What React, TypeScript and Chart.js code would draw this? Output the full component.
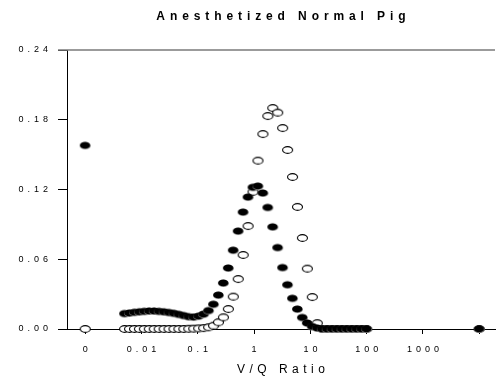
import { useEffect, useRef } from "react";
import { Chart, registerables } from "chart.js";

Chart.register(...registerables);

// V/Q compartments (50, log-spaced 0.005 .. 100)
const vqRatios = [
  0.005, 0.00612, 0.00749, 0.00917, 0.01122, 0.01373, 0.01681, 0.02057, 0.02518, 0.03083,
  0.03773, 0.04618, 0.05652, 0.06918, 0.08468, 0.10365, 0.12687, 0.15529, 0.19007, 0.23264,
  0.28474, 0.34851, 0.42658, 0.52214, 0.63906, 0.78219, 0.95738, 1.1718, 1.4342, 1.7555,
  2.1487, 2.6298, 3.2188, 3.9398, 4.822, 5.902, 7.2238, 8.8418, 10.822, 13.246,
  16.212, 19.843, 24.287, 29.727, 36.385, 44.533, 54.507, 66.715, 81.657, 100,
];

// Blood flow (filled markers)
const perfusion = [
  0.0133, 0.0138, 0.0144, 0.0148, 0.0152, 0.0155, 0.0155, 0.0152, 0.0148, 0.0142,
  0.0135, 0.0126, 0.0116, 0.0106, 0.0103, 0.0111, 0.0128, 0.0159, 0.0213, 0.0292,
  0.0396, 0.0525, 0.0678, 0.0843, 0.1006, 0.1135, 0.1219, 0.123, 0.117, 0.1046,
  0.0879, 0.0701, 0.0529, 0.0381, 0.0264, 0.0172, 0.0099, 0.0052, 0.0022, 0.0009,
  0, 0, 0, 0, 0, 0, 0, 0, 0, 0,
];

// Ventilation (open markers)
const ventilation = [
  0, 0, 0, 0, 0, 0, 0, 0, 0, 0,
  0, 0, 0, 0.0002, 0.0003, 0.0005, 0.0008, 0.0015, 0.0028, 0.0058,
  0.01, 0.0172, 0.0278, 0.043, 0.0637, 0.0886, 0.118, 0.1448, 0.1677, 0.1832,
  0.1901, 0.1861, 0.1729, 0.154, 0.1308, 0.105, 0.0783, 0.0519, 0.0275, 0.005,
  0, 0, 0, 0, 0, 0, 0, 0, 0, 0,
];

// Shunt (V/Q = 0) and dead space (V/Q = infinity)
const shuntPerfusion = 0.158;
const shuntVentilation = 0;
const deadSpacePerfusion = 0;
const deadSpaceVentilation = 0;

// x axis: decades (log10 positions); "0" sits one decade below 0.01
const xTickPositions = [-3, -2, -1, 0, 1, 2, 3, 4];
const xTickLabels = ["0", "0.01", "0.1", "1", "10", "100", "1000", ""];
const shuntPosition = -3;
const deadSpacePosition = 4;

const yTicks = [0, 0.06, 0.12, 0.18, 0.24];

const FONT = "'Liberation Sans', Arial, Helvetica, sans-serif";

function makeMarker(filled: boolean): HTMLCanvasElement {
  const c = document.createElement("canvas");
  c.width = 13;
  c.height = 10;
  const g = c.getContext("2d")!;
  if (filled) {
    g.fillStyle = "#8a8a8a";
    g.beginPath();
    g.ellipse(6.5, 5.4, 5.4, 3.6, 0, 0, Math.PI * 2);
    g.fill();
    g.fillStyle = "#000";
    g.beginPath();
    g.ellipse(6.3, 4.9, 5.1, 3.4, 0, 0, Math.PI * 2);
    g.fill();
  } else {
    g.fillStyle = "#fff";
    g.strokeStyle = "#000";
    g.lineWidth = 1.1;
    g.beginPath();
    g.ellipse(6.5, 5, 5, 3.4, 0, 0, Math.PI * 2);
    g.fill();
    g.stroke();
  }
  return c;
}

const decorPlugin = {
  id: "decor",
  beforeDraw(chart: any) {
    chart.ctx.letterSpacing = "4px";
  },
  beforeDatasetsDraw(chart: any) {
    const ctx = chart.ctx;
    const { left, right, top } = chart.chartArea;
    ctx.save();
    ctx.strokeStyle = "#7a7a7a";
    ctx.lineWidth = 1.6;
    ctx.beginPath();
    ctx.moveTo(left - 9, top);
    ctx.lineTo(right, top);
    ctx.stroke();
    ctx.restore();
  },
  afterDraw(chart: any) {
    const ctx = chart.ctx;
    const { left, right } = chart.chartArea;
    const cx = (left + right) / 2;
    ctx.save();
    ctx.fillStyle = "#000";
    ctx.textAlign = "center";
    ctx.textBaseline = "alphabetic";
    ctx.font = `bold 12px ${FONT}`;
    ctx.letterSpacing = "4.9px";
    ctx.fillText("Anesthetized Normal Pig", cx + 2.4, 20);
    ctx.font = `12px ${FONT}`;
    ctx.letterSpacing = "4.5px";
    ctx.fillText("V/Q Ratio", cx + 2.2, 373);
    ctx.restore();
  },
};

export default function App() {
  const ref = useRef<HTMLCanvasElement | null>(null);

  useEffect(() => {
    document.body.style.margin = "0";
    const canvas = ref.current!;
    const filledMarker = makeMarker(true);
    const openMarker = makeMarker(false);

    const perfPts = [
      { x: shuntPosition, y: shuntPerfusion },
      ...vqRatios.map((v, i) => ({ x: Math.log10(v), y: perfusion[i] })),
      { x: deadSpacePosition, y: deadSpacePerfusion },
    ];
    const ventPts = [
      { x: shuntPosition, y: shuntVentilation },
      ...vqRatios.map((v, i) => ({ x: Math.log10(v), y: ventilation[i] })),
      { x: deadSpacePosition, y: deadSpaceVentilation },
    ];

    const chart = new Chart(canvas, {
      type: "scatter",
      data: {
        datasets: [
          {
            label: "Blood flow",
            data: perfPts,
            pointStyle: filledMarker as any,
            pointRadius: 5,
            pointHoverRadius: 5,
            showLine: false,
            clip: false as any,
            order: 0,
          },
          {
            label: "Ventilation",
            data: ventPts,
            pointStyle: openMarker as any,
            pointRadius: 5,
            pointHoverRadius: 5,
            showLine: false,
            clip: false as any,
            order: 1,
          },
        ],
      },
      options: {
        animation: false,
        responsive: false,
        devicePixelRatio: 1,
        events: [],
        layout: { padding: { top: 50, left: 0, right: 0, bottom: 0 } },
        plugins: {
          legend: { display: false },
          title: { display: false },
          tooltip: { enabled: false },
        },
        scales: {
          x: {
            type: "linear",
            min: -3.324,
            max: 4.28,
            afterBuildTicks: (scale: any) => {
              scale.ticks = xTickPositions.map((v) => ({ value: v }));
            },
            afterFit: (scale: any) => {
              scale.height = 48;
              scale.paddingLeft = 0;
              scale.paddingRight = 0;
            },
            grid: {
              display: true,
              drawOnChartArea: false,
              drawTicks: true,
              tickLength: 5,
              color: "#000",
              lineWidth: 1,
            },
            border: { display: true, color: "#000", width: 1 },
            ticks: {
              autoSkip: false,
              maxRotation: 0,
              padding: 10,
              labelOffset: 2,
              color: "#000",
              font: { family: FONT, size: 9 },
              callback: (value: any) => {
                const idx = xTickPositions.indexOf(Number(value));
                return idx >= 0 ? xTickLabels[idx] : "";
              },
            },
          },
          y: {
            type: "linear",
            min: 0,
            max: 0.24,
            afterBuildTicks: (scale: any) => {
              scale.ticks = yTicks.map((v) => ({ value: v }));
            },
            afterFit: (scale: any) => {
              scale.width = 67;
              scale.paddingTop = 0;
              scale.paddingBottom = 0;
            },
            grid: {
              display: true,
              drawOnChartArea: false,
              drawTicks: true,
              tickLength: 9,
              color: "#000",
              lineWidth: 1,
            },
            border: { display: true, color: "#000", width: 1 },
            ticks: {
              padding: 6,
              color: "#000",
              font: { family: FONT, size: 9 },
              callback: (value: any) => Number(value).toFixed(2),
            },
          },
        },
      },
      plugins: [decorPlugin],
    });

    return () => chart.destroy();
  }, []);

  return (
    <div style={{ position: "fixed", left: 0, top: 0, width: 501, height: 377, background: "#fff" }}>
      <canvas ref={ref} width={501} height={377} style={{ display: "block", width: 501, height: 377 }} />
    </div>
  );
}
